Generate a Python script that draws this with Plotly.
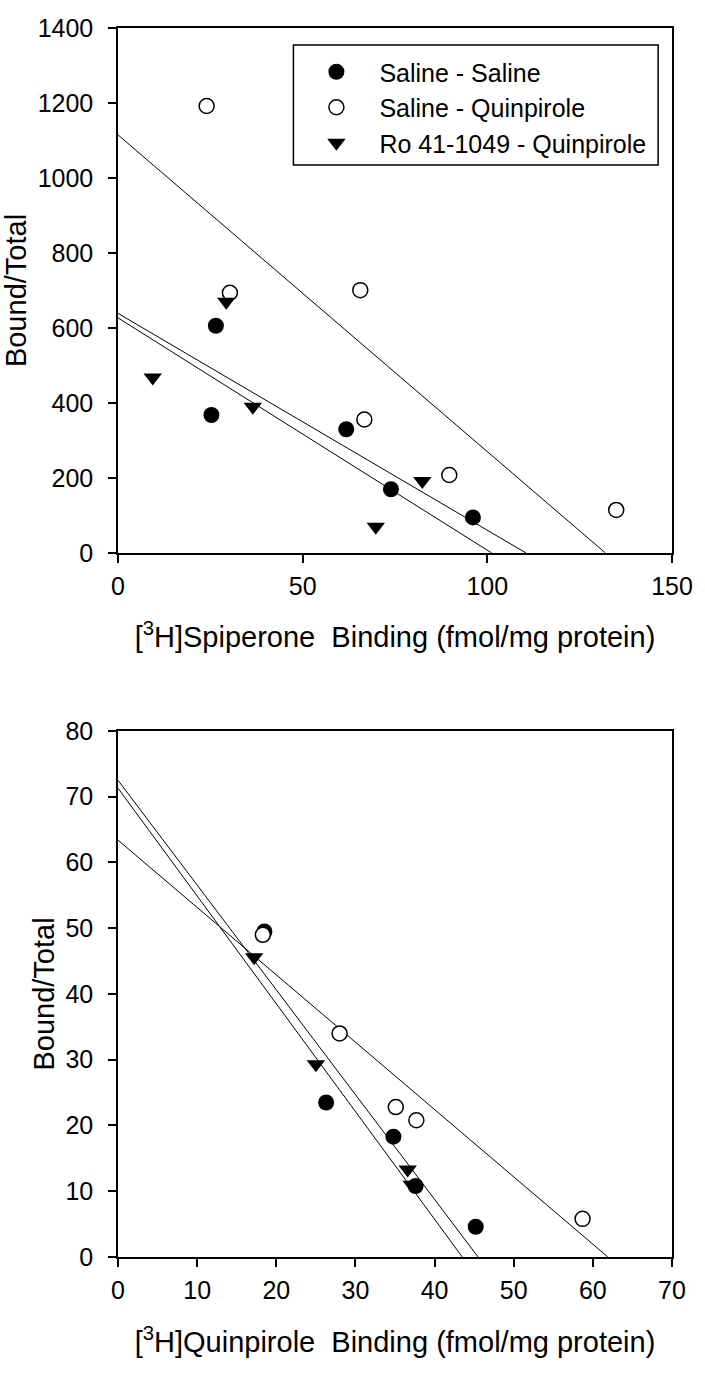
import plotly.graph_objects as go

# --- panel A: [3H]spiperone ---
sp_ss_x = [26.5, 25.3, 61.8, 73.9, 96.1]
sp_ss_y = [606, 368, 330, 170, 95]
sp_sq_x = [24.0, 30.3, 65.6, 66.7, 89.7, 134.9]
sp_sq_y = [1192, 694, 701, 356, 208, 115]
sp_ro_x = [29.3, 9.4, 36.5, 82.4, 69.8]
sp_ro_y = [670, 468, 390, 192, 70]
# regression lines: y-intercept and x-intercept
sp_line_y0 = [1115, 639, 627]
sp_line_x0 = [132.0, 110.5, 101.2]

# --- panel B: [3H]quinpirole ---
qn_ss_x = [18.5, 26.3, 34.8, 37.6, 45.2]
qn_ss_y = [49.5, 23.5, 18.3, 10.8, 4.6]
qn_sq_x = [18.3, 28.0, 35.1, 37.7, 58.7]
qn_sq_y = [49.0, 34.0, 22.8, 20.8, 5.8]
qn_ro_x = [17.2, 25.0, 36.6, 37.1]
qn_ro_y = [45.6, 29.3, 13.3, 11.0]
qn_line_y0 = [72.5, 71.3, 63.4]
qn_line_x0 = [45.5, 43.5, 61.9]

group_names = ["Saline - Saline", "Saline - Quinpirole", "Ro 41-1049 - Quinpirole"]
sp_ticks_x = [0, 50, 100, 150]
sp_ticks_y = [0, 200, 400, 600, 800, 1000, 1200, 1400]
qn_ticks_x = [0, 10, 20, 30, 40, 50, 60, 70]
qn_ticks_y = [0, 10, 20, 30, 40, 50, 60, 70, 80]

FONT = "Liberation Sans, Arial, sans-serif"

fig = go.Figure()


def add_panel(xa, ya, lines_y0, lines_x0, ss, sq, ro, legend):
    for y0, x0 in zip(lines_y0, lines_x0):
        fig.add_trace(go.Scatter(
            x=[0, x0], y=[y0, 0], mode="lines",
            line=dict(color="black", width=1),
            showlegend=False, hoverinfo="skip", xaxis=xa, yaxis=ya))
    fig.add_trace(go.Scatter(
        x=ss[0], y=ss[1], mode="markers", name=group_names[0],
        marker=dict(symbol="circle", size=16, color="black"),
        showlegend=legend, xaxis=xa, yaxis=ya))
    fig.add_trace(go.Scatter(
        x=sq[0], y=sq[1], mode="markers", name=group_names[1],
        marker=dict(symbol="circle", size=15, color="white",
                    line=dict(color="black", width=1.5)),
        showlegend=legend, xaxis=xa, yaxis=ya))
    fig.add_trace(go.Scatter(
        x=ro[0], y=ro[1], mode="markers", name=group_names[2],
        marker=dict(symbol="triangle-down", size=16, color="black"),
        showlegend=legend, xaxis=xa, yaxis=ya))


add_panel("x", "y", sp_line_y0, sp_line_x0,
          (sp_ss_x, sp_ss_y), (sp_sq_x, sp_sq_y), (sp_ro_x, sp_ro_y), True)
add_panel("x2", "y2", qn_line_y0, qn_line_x0,
          (qn_ss_x, qn_ss_y), (qn_sq_x, qn_sq_y), (qn_ro_x, qn_ro_y), False)

axis_style = dict(
    showline=True, mirror=True, linecolor="black", linewidth=1.5,
    ticks="outside", ticklen=8, tickwidth=1.5, tickcolor="black",
    showgrid=False, zeroline=False, tickfont=dict(size=25, color="black"),
    title_font=dict(size=29, color="black"),
)
xstyle = dict(axis_style, ticklabelstandoff=2)
ystyle = dict(axis_style, ticklabelstandoff=10)

fig.update_layout(
    width=705, height=1375,
    margin=dict(l=118, r=28, t=28, b=118),
    paper_bgcolor="white", plot_bgcolor="white",
    font=dict(family=FONT, color="black"),
    xaxis=dict(xstyle, domain=[0, 1], anchor="y", range=[0, 150],
               tickvals=sp_ticks_x,
               title=dict(text="[<sup>3</sup>H]Spiperone \u00a0Binding (fmol/mg protein)", standoff=28)),
    yaxis=dict(ystyle, domain=[0.5728, 1], anchor="x", range=[0, 1400],
               tickvals=sp_ticks_y, title=dict(text="Bound/Total", standoff=2)),
    xaxis2=dict(xstyle, domain=[0, 1], anchor="y2", range=[0, 70],
                tickvals=qn_ticks_x,
                title=dict(text="[<sup>3</sup>H]Quinpirole \u00a0Binding (fmol/mg protein)", standoff=29)),
    yaxis2=dict(ystyle, domain=[0, 0.428], anchor="x2", range=[0, 80],
                tickvals=qn_ticks_y, title=dict(text="Bound/Total", standoff=2)),
    legend=dict(
        x=0.3166, y=(1257 - 49) / 1229, xanchor="left", yanchor="top",
        borderwidth=0, bgcolor="rgba(0,0,0,0)",
        font=dict(size=25, color="black"), itemwidth=76,
        tracegroupgap=0,
    ),
)

# legend frame drawn as a box around the legend entries
fig.add_shape(type="rect", xref="paper", yref="paper",
              x0=(295 - 118) / 559, x1=(663 - 118) / 559,
              y0=(1257 - 165) / 1229, y1=(1257 - 45) / 1229,
              line=dict(color="black", width=1.5), fillcolor="white", layer="below")

fig.write_html("out.html", config={"displayModeBar": False},
               post_script="document.body.style.margin='0';")
